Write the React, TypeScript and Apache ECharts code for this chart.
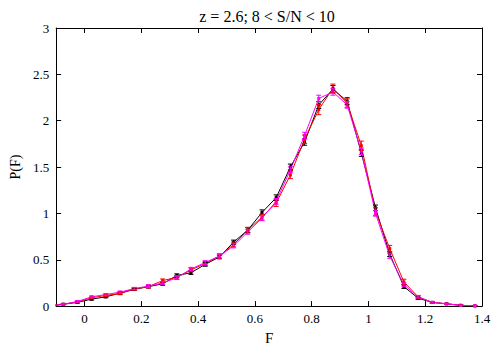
import React, { useEffect, useRef } from "react";
import * as echarts from "echarts";

const xs = [-0.125, -0.075, -0.025, 0.025, 0.075, 0.125, 0.175, 0.225, 0.275, 0.325, 0.375, 0.425, 0.475, 0.525, 0.575, 0.625, 0.675, 0.725, 0.775, 0.825, 0.875, 0.925, 0.975, 1.025, 1.075, 1.125, 1.175, 1.225, 1.275, 1.325, 1.375];

const blackY = [0.0, 0.02, 0.04, 0.075, 0.1, 0.14, 0.18, 0.21, 0.24, 0.33, 0.36, 0.45, 0.53, 0.69, 0.82, 1.01, 1.17, 1.5, 1.77, 2.17, 2.34, 2.21, 1.65, 1.06, 0.56, 0.21, 0.085, 0.04, 0.025, 0.008, 0.003];
const redY = [0.0, 0.02, 0.045, 0.09, 0.115, 0.135, 0.185, 0.21, 0.275, 0.31, 0.39, 0.46, 0.54, 0.665, 0.82, 0.96, 1.11, 1.415, 1.8, 2.12, 2.35, 2.19, 1.73, 1.02, 0.62, 0.26, 0.1, 0.04, 0.025, 0.008, 0.003];
const magentaY = [0.0, 0.02, 0.05, 0.1, 0.125, 0.15, 0.19, 0.215, 0.25, 0.305, 0.4, 0.47, 0.54, 0.65, 0.8, 0.95, 1.13, 1.47, 1.84, 2.24, 2.31, 2.17, 1.67, 1.0, 0.54, 0.23, 0.1, 0.04, 0.025, 0.008, 0.003];

const blackErr = [0, 0.005, 0.008, 0.01, 0.01, 0.012, 0.012, 0.015, 0.015, 0.018, 0.018, 0.02, 0.02, 0.022, 0.025, 0.028, 0.03, 0.032, 0.035, 0.038, 0.04, 0.038, 0.035, 0.03, 0.025, 0.02, 0.012, 0.008, 0.005, 0.004, 0.003];
const redErr = [0, 0.005, 0.008, 0.01, 0.012, 0.012, 0.014, 0.015, 0.018, 0.02, 0.02, 0.022, 0.024, 0.026, 0.03, 0.032, 0.035, 0.04, 0.045, 0.055, 0.045, 0.045, 0.05, 0.04, 0.035, 0.03, 0.015, 0.008, 0.005, 0.004, 0.003];
const magentaErr = [0, 0.005, 0.008, 0.01, 0.01, 0.012, 0.012, 0.015, 0.015, 0.018, 0.018, 0.02, 0.02, 0.022, 0.025, 0.028, 0.03, 0.032, 0.035, 0.035, 0.035, 0.035, 0.035, 0.03, 0.025, 0.02, 0.012, 0.008, 0.005, 0.004, 0.003];

const xTicks = [0, 0.2, 0.4, 0.6, 0.8, 1, 1.2, 1.4];

const titleText = "z = 2.6; 8 < S/N < 10";

const FONT = "'Liberation Serif', 'DejaVu Serif', serif";

function lineSeries(name: string, ys: number[], color: string) {
  return {
    name,
    type: "line",
    data: xs.map((x, i) => [x, ys[i]]),
    symbol: "rect",
    symbolSize: 3,
    showSymbol: true,
    clip: true,
    itemStyle: { color },
    lineStyle: { color, width: 1 },
    z: 3,
  };
}

function errSeries(name: string, ys: number[], errs: number[], color: string) {
  return {
    name: name + "-err",
    type: "custom",
    clip: true,
    data: xs.map((x, i) => [x, ys[i], errs[i]]),
    z: 4,
    renderItem: (params: any, api: any) => {
      const x = api.value(0);
      const y = api.value(1);
      const e = api.value(2);
      if (x < -0.1 || e <= 0) return null;
      const lo = api.coord([x, y - e]);
      const hi = api.coord([x, y + e]);
      const w = 2.5;
      const st = { stroke: color, lineWidth: 1 };
      return {
        type: "group",
        children: [
          { type: "line", shape: { x1: lo[0], y1: lo[1], x2: hi[0], y2: hi[1] }, style: st },
          { type: "line", shape: { x1: lo[0] - w, y1: lo[1], x2: lo[0] + w, y2: lo[1] }, style: st },
          { type: "line", shape: { x1: hi[0] - w, y1: hi[1], x2: hi[0] + w, y2: hi[1] }, style: st },
        ],
      };
    },
  };
}

export default function App() {
  const ref = useRef<HTMLDivElement>(null);
  useEffect(() => {
    document.body.style.margin = "0";
    if (!ref.current) return;
    const chart = echarts.init(ref.current, null, { renderer: "svg" });
    const fmt = (v: number) => String(+v.toFixed(2));
    const axisLine = { show: true, onZero: false, lineStyle: { color: "#000", width: 1 } };
    chart.setOption({
      animation: false,
      backgroundColor: "#fff",
      textStyle: { fontFamily: FONT },
      title: {
        text: titleText,
        left: 262,
        textAlign: "center",
        top: 3,
        textStyle: { fontFamily: FONT, fontSize: 16, fontWeight: "normal", color: "#000" },
      },
      grid: { left: 47, right: 18, top: 28, bottom: 31 },
      xAxis: [
        {
          type: "value",
          min: -0.1,
          max: 1.4,
          position: "bottom",
          name: "F",
          nameLocation: "middle",
          nameGap: 22,
          nameTextStyle: { fontFamily: FONT, fontSize: 15, color: "#000" },
          axisLine,
          axisTick: { show: true, inside: true, length: 5, customValues: xTicks, lineStyle: { color: "#000" } },
          axisLabel: { customValues: xTicks, formatter: fmt, fontFamily: FONT, fontSize: 13, color: "#000", margin: 6 },
          splitLine: { show: false },
        },
        {
          type: "value",
          min: -0.1,
          max: 1.4,
          position: "top",
          axisLine,
          axisTick: { show: true, inside: true, length: 5, customValues: xTicks, lineStyle: { color: "#000" } },
          axisLabel: { show: false },
          splitLine: { show: false },
        },
      ],
      yAxis: [
        {
          type: "value",
          min: 0,
          max: 3,
          interval: 0.5,
          position: "left",
          name: "P(F)",
          nameLocation: "middle",
          nameGap: 30,
          nameTextStyle: { fontFamily: FONT, fontSize: 14, color: "#000" },
          axisLine,
          axisTick: { show: true, inside: true, length: 5, lineStyle: { color: "#000" } },
          axisLabel: { formatter: fmt, fontFamily: FONT, fontSize: 13, color: "#000", margin: 7 },
          splitLine: { show: false },
        },
        {
          type: "value",
          min: 0,
          max: 3,
          interval: 0.5,
          position: "right",
          axisLine,
          axisTick: { show: true, inside: true, length: 5, lineStyle: { color: "#000" } },
          axisLabel: { show: false },
          splitLine: { show: false },
        },
      ],
      series: [
        lineSeries("black", blackY, "#000000"),
        errSeries("black", blackY, blackErr, "#000000"),
        lineSeries("red", redY, "#ff0000"),
        errSeries("red", redY, redErr, "#ff0000"),
        lineSeries("magenta", magentaY, "#ff00ff"),
        errSeries("magenta", magentaY, magentaErr, "#ff00ff"),
      ],
    });
    return () => chart.dispose();
  }, []);
  return <div ref={ref} style={{ width: 500, height: 350 }} />;
}
